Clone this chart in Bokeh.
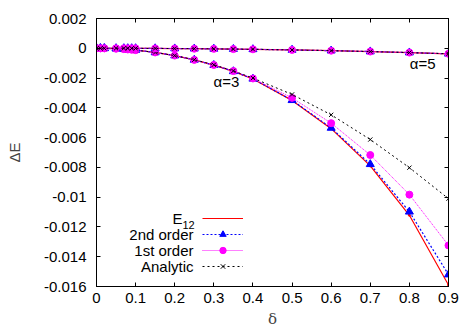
from bokeh.plotting import figure
from bokeh.models import (Range1d, FixedTicker, LinearAxis, Label, Legend, LegendItem)
from bokeh.embed import file_html
from bokeh.resources import INLINE

# ---- data -----------------------------------------------------------
delta = [0, 0.01, 0.02, 0.05, 0.07, 0.08, 0.09, 0.1, 0.15, 0.2, 0.25,
         0.3, 0.35, 0.4, 0.5, 0.6, 0.7, 0.8, 0.9]

# alpha = 3 branch
a3_e12 = [0, -0.0000012, -0.000005, -0.00003, -0.00006, -0.00008, -0.0001,
          -0.000125, -0.00028, -0.00049, -0.00078, -0.00113, -0.00155,
          -0.00206, -0.0035, -0.0054, -0.0079, -0.01122, -0.0159]
a3_2nd = [0, -0.0000012, -0.000005, -0.00003, -0.00006, -0.00008, -0.0001,
          -0.000125, -0.00028, -0.00049, -0.00078, -0.00113, -0.00155,
          -0.00205, -0.00349, -0.00535, -0.00779, -0.01098, -0.0152]
a3_1st = [0, -0.0000012, -0.000005, -0.00003, -0.00006, -0.00008, -0.0001,
          -0.000125, -0.00028, -0.00049, -0.00078, -0.00112, -0.00153,
          -0.00203, -0.00333, -0.00503, -0.00717, -0.00983, -0.01324]
a3_ana = [0, -0.0000012, -0.000005, -0.00003, -0.00006, -0.00008, -0.0001,
          -0.000125, -0.00028, -0.00049, -0.00077, -0.00111, -0.00152,
          -0.002, -0.0031, -0.00447, -0.00613, -0.00802, -0.0101]

# alpha = 5 branch
a5_e12 = [0, 0, 0, -0.0000012, -0.0000023, -0.000003, -0.0000037, -0.0000046,
          -0.00001, -0.000018, -0.000029, -0.00004, -0.000056, -0.00007,
          -0.00011, -0.00016, -0.00022, -0.00029, -0.00037]
a5_2nd = list(a5_e12)
a5_1st = list(a5_e12)
a5_ana = list(a5_e12)

x_ticks = [0, 0.1, 0.2, 0.3, 0.4, 0.5, 0.6, 0.7, 0.8, 0.9]
x_tick_labels = ["0", "0.1", "0.2", "0.3", "0.4", "0.5", "0.6", "0.7", "0.8", "0.9"]
y_ticks = [-0.016, -0.014, -0.012, -0.01, -0.008, -0.006, -0.004, -0.002, 0, 0.002]
y_tick_labels = ["-0.016", "-0.014", "-0.012", "-0.01", "-0.008", "-0.006",
                 "-0.004", "-0.002", "0", "0.002"]

legend_labels = ["2nd order", "1st order", "Analytic"]

# ---- figure ---------------------------------------------------------
FONT = "Liberation Sans"
FS = "15px"

p = figure(frame_width=352, frame_height=268,
           min_border_left=96, min_border_right=26,
           min_border_top=18, min_border_bottom=46,
           x_range=Range1d(0, 0.9), y_range=Range1d(-0.016, 0.002),
           output_backend="svg", toolbar_location=None,
           x_axis_location=None, y_axis_location=None)
p.grid.visible = False
p.outline_line_color = "black"
p.outline_line_width = 1
p.background_fill_color = "white"
p.border_fill_color = "white"


def style_axis(ax, ticks, labels, show):
    ax.ticker = FixedTicker(ticks=ticks)
    ax.major_label_overrides = {t: l for t, l in zip(ticks, labels)}
    ax.major_tick_in = 4
    ax.major_tick_out = 0
    ax.minor_tick_in = 0
    ax.minor_tick_out = 0
    ax.axis_line_color = "black"
    ax.major_tick_line_color = "black"
    ax.major_label_text_font = FONT
    if show:
        ax.major_label_text_font_size = FS
        ax.major_label_text_color = "black"
    else:
        ax.major_label_text_font_size = "1px"
        ax.major_label_text_color = None
        ax.major_label_standoff = 0


xb = LinearAxis(axis_label="δ")
style_axis(xb, x_ticks, x_tick_labels, True)
xb.major_label_standoff = 6
xb.axis_label_standoff = 4
xb.axis_label_text_font = "DejaVu Serif"
xb.axis_label_text_font_style = "normal"
xb.axis_label_text_font_size = FS
p.add_layout(xb, "below")

yl = LinearAxis(axis_label="ΔE")
style_axis(yl, y_ticks, y_tick_labels, True)
yl.major_label_standoff = 10
yl.axis_label_standoff = 18
yl.axis_label_text_font = FONT
yl.axis_label_text_font_style = "normal"
yl.axis_label_text_font_size = FS
p.add_layout(yl, "left")

xt = LinearAxis()
style_axis(xt, x_ticks, x_tick_labels, False)
p.add_layout(xt, "above")

yr = LinearAxis()
style_axis(yr, y_ticks, y_tick_labels, False)
p.add_layout(yr, "right")

# ---- series ---------------------------------------------------------
RED, BLUE, MAG, BLK = "#ff0000", "#0000ff", "#ff00ff", "#000000"

items = {}
for e12, s2, s1, an in [(a3_e12, a3_2nd, a3_1st, a3_ana),
                        (a5_e12, a5_2nd, a5_1st, a5_ana)]:
    l1 = p.line(delta, e12, line_color=RED, line_width=1.2)
    p.scatter(delta, e12, marker="circle", size=2, color=RED)
    l2 = p.line(delta, s2, line_color=BLUE, line_width=1.2, line_dash="2 2")
    m2 = p.scatter(delta, s2, marker="triangle", size=8, color=BLUE)
    l3 = p.line(delta, s1, line_color=MAG, line_width=1, line_dash="1 1")
    m3 = p.scatter(delta, s1, marker="circle", size=7, color=MAG)
    l4 = p.line(delta, an, line_color=BLK, line_width=1, line_dash="2 3")
    m4 = p.scatter(delta, an, marker="x", size=6, line_color=BLK, line_width=1)
    if not items:
        items = {"e12": [l1], "2nd": [l2, m2], "1st": [l3, m3], "ana": [l4, m4]}

legend = Legend(items=[LegendItem(label=" ", renderers=items[k])
                       for k in ["e12", "2nd", "1st", "ana"]],
                location=(106, 12), orientation="vertical",
                glyph_width=41, glyph_height=16, label_height=16,
                label_width=0, label_standoff=0, spacing=0, padding=0,
                margin=0, label_text_font_size="1px", label_text_color=None,
                border_line_alpha=0, background_fill_alpha=0)
p.add_layout(legend)

# legend texts (to the left of the keys)
row_y = [52, 36, 20]
for txt, yy in zip(legend_labels, row_y):
    p.add_layout(Label(x=97, y=yy, x_units="screen", y_units="screen", text=txt,
                       text_align="right", text_baseline="middle",
                       text_font=FONT, text_font_size=FS, text_color="black"))
p.add_layout(Label(x=86, y=68, x_units="screen", y_units="screen", text="E",
                   text_align="right", text_baseline="middle",
                   text_font=FONT, text_font_size=FS, text_color="black"))
p.add_layout(Label(x=86, y=62, x_units="screen", y_units="screen", text="12",
                   text_align="left", text_baseline="middle",
                   text_font=FONT, text_font_size="11px", text_color="black"))

# curve annotations
p.add_layout(Label(x=0.332, y=-0.0022, text="α=3", text_align="center",
                   text_baseline="middle", text_font=FONT, text_font_size=FS,
                   text_color="black"))
p.add_layout(Label(x=0.834, y=-0.001, text="α=5", text_align="center",
                   text_baseline="middle", text_font=FONT, text_font_size=FS,
                   text_color="black"))

open("out.html", "w").write(file_html(p, INLINE))
